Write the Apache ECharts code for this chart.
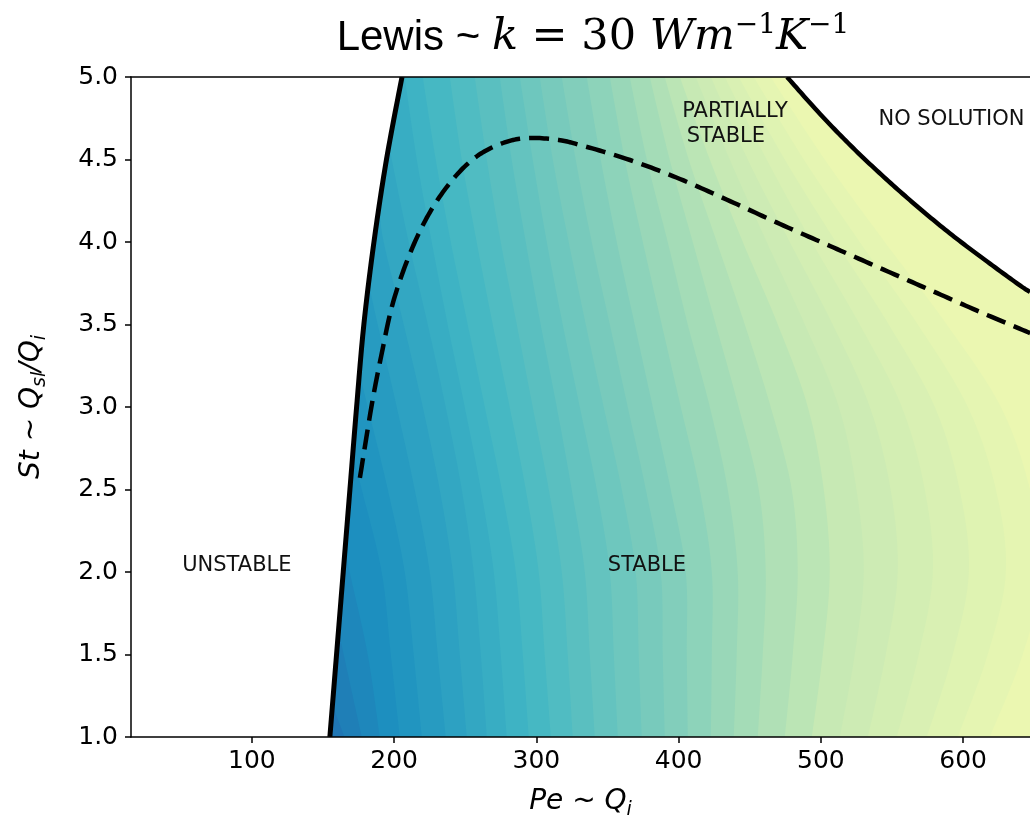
<!DOCTYPE html>
<html><head><meta charset="utf-8">
<script src="https://cdn.jsdelivr.net/npm/echarts@6/dist/echarts.min.js"></script>
<style>html,body{margin:0;padding:0;background:#fff}#c{width:1030px;height:830px}</style>
</head><body><div id="c"></div>
<script>
// ---------------- data ----------------
const X_TICKS = [100, 200, 300, 400, 500, 600];
const Y_TICKS = [1.0, 1.5, 2.0, 2.5, 3.0, 3.5, 4.0, 4.5, 5.0];

// contour levels (position on the YlGnBu colour scale) and the contour lines, bottom to top
const CONTOUR_LEVELS = [0.68,0.66,0.64,0.62,0.60,0.58,0.56,0.54,0.52,0.50,0.48,0.46,0.44,0.42,0.40,0.38,0.36,0.34,0.32,0.30,0.28,0.26,0.24,0.22,0.20,0.18,0.16,0.14];
const CONTOUR_LINES = [
  [[165,1.0],[156.4,1.2]],
  [[177.2,1.0],[164.5,1.5],[161,1.65]],
  [[189.8,1.0],[181.4,1.5],[168.7,2.0],[165.4,2.15]],
  [[203.9,1.0],[197.6,1.5],[191.2,2.0],[177.2,2.5],[170.9,2.7]],
  [[219.4,1.0],[213.7,1.5],[207.4,2.0],[195.5,2.5],[181.4,3.0],[175.8,3.2]],
  [[236.2,1.0],[230.6,1.5],[225.0,2.0],[214.4,2.5],[201.8,3.0],[188.4,3.5],[182.1,3.75]],
  [[251.0,1.0],[246.1,1.5],[241.2,2.0],[232.0,2.5],[220.1,3.0],[206.7,3.5],[192.6,4.0],[189.8,4.2]],
  [[265.1,1.0],[260.9,1.5],[255.9,2.0],[247.5,2.5],[236.2,3.0],[223.6,3.5],[210.2,4.0],[198.3,4.5],[196.5,4.6]],
  [[279.1,1],[274.9,1.5],[270.0,2],[260.9,2.5],[249.6,3],[237.6,3.5],[226.4,4],[215.9,4.5],[207.4,5]],
  [[294.6,1],[290.4,1.5],[285.5,2],[275.6,2.5],[263.7,3],[251.7,3.5],[239.8,4],[229.2,4.5],[220.1,5]],
  [[310.1,1],[305.8,1.5],[301.6,2],[292.5,2.5],[281.2,3],[269.3,3.5],[258.0,4],[247.5,4.5],[239.1,5]],
  [[325.5,1],[322.0,1.5],[317.8,2],[308.7,2.5],[297.4,3],[286.2,3.5],[274.9,4],[265.1,4.5],[256.6,5]],
  [[341.0,1],[337.5,1.5],[334.0,2],[324.8,2.5],[314.3,3],[303.0,3.5],[292.5,4],[282.6,4.5],[274.2,5]],
  [[357.2,1],[354.4,1.5],[351.6,2],[342.4,2.5],[330.5,3],[318.5,3.5],[307.3,4],[297.4,4.5],[288.3,5]],
  [[374.0,1],[371.9,1.5],[369.8,2],[360.0,2.5],[347.3,3],[334.7,3.5],[322.7,4],[311.5,4.5],[302.3,5]],
  [[390.2,1],[388.8,1.5],[387.4,2],[376.9,2.5],[364.2,3],[351.6,3.5],[338.9,4],[327.6,4.5],[317.8,5]],
  [[406.4,1],[405.7,1.5],[405.0,2],[394.4,2.5],[381.8,3],[369.1,3.5],[356.5,4],[345.2,4.5],[335.4,5]],
  [[422.6,1],[423.3,1.5],[423.3,2],[414.8,2.5],[401.5,3],[388.1,3.5],[374.8,4],[362.1,4.5],[351.6,5]],
  [[438.7,1],[440.8,1.5],[441.5,2],[434.5,2.5],[421.9,3],[406.4,3.5],[392.3,4],[377.6,4.5],[365.6,5]],
  [[455.6,1],[459.1,1.5],[461.2,2],[456.3,2.5],[442.2,3],[426.1,3.5],[409.9,4],[393.7,4.5],[379.7,5]],
  [[474.6,1],[480.2,1.5],[483.7,2],[479.5,2.5],[464.7,3],[446.5,3.5],[426.8,4],[407.1,4.5],[390.2,5]],
  [[493.6,1],[501.3,1.5],[506.2,2],[502.0,2.5],[490.8,3],[469.7,3.5],[445.1,4],[421.9,4.5],[400.8,5]],
  [[513.3,1],[523.8,1.5],[530.1,2],[525.0,2.5],[512.6,3],[488.7,3.5],[461.9,4],[435.9,4.5],[412.0,5]],
  [[533.0,1],[545.6,1.5],[554.0,2],[549.0,2.5],[534.4,3],[508.3,3.5],[478.1,4],[448.6,4.5],[422.6,5]],
  [[553.3,1],[568.8,1.5],[578.7,2],[573.0,2.5],[556.9,3],[527.3,3.5],[493.6,4],[461.9,4.5],[432.4,5]],
  [[574.4,1],[592.7,1.5],[604.0,2],[597.5,2.5],[580.1,3],[547.7,3.5],[510.5,4],[474.6,4.5],[442.2,5]],
  [[596.2,1],[617.3,1.5],[630.0,2],[623.0,2.5],[603.3,3],[568.1,3.5],[527.3,4],[488.0,4.5],[452.8,5]],
  [[618.7,1],[641.9,1.5],[655.3,2],[647.0,2.5],[626.5,3],[588.5,3.5],[544.9,4],[502.7,4.5],[464.7,5]]
];

// stability boundary (left, solid), "no solution" boundary (top right, solid), partial-stability curve (dashed)
const LEFT_BOUNDARY = [[154.8,1.0],[159.5,1.5],[164.2,2.0],[168.9,2.5],[173.6,3.0],[178.7,3.5],[185.8,4.0],[194.6,4.5],[205.5,5.0]];
const RIGHT_BOUNDARY = [[476.2,5.0],[499.4,4.776],[522.6,4.570],[545.8,4.382],[569.0,4.206],[592.2,4.042],[615.4,3.891],[638.6,3.745],[647.0,3.697]];
const DASHED_CURVE = [[175.9,2.57],[184.4,3.02],[191.4,3.33],[199.1,3.63],[211.1,3.93],[225.1,4.18],[241.3,4.38],[258.2,4.52],[276.5,4.60],[293.3,4.63],[314.4,4.62],[330.6,4.588],[365.8,4.497],[400.9,4.382],[436.1,4.248],[471.3,4.109],[506.4,3.976],[541.6,3.842],[576.8,3.709],[611.9,3.576],[647.1,3.448]];

const LABEL_TEXTS = ['UNSTABLE', 'STABLE', 'PARTIALLY', 'STABLE', 'NO SOLUTION'];
const LABEL_X = [89.4, 377.7, 439.6, 433.2, 591.8];
const LABEL_Y = [2.04, 2.04, 4.79, 4.64, 4.74];

// ---------------- styling helpers ----------------
const YLGNBU = ['#ffffd9','#edf8b1','#c7e9b4','#7fcdbb','#41b6c4','#1d91c0','#225ea8','#253494','#081d58'];
function hex(h){return [parseInt(h.slice(1,3),16),parseInt(h.slice(3,5),16),parseInt(h.slice(5,7),16)];}
function cmap(t){
  t = Math.max(0, Math.min(1, t));
  const s = t * (YLGNBU.length - 1), i = Math.min(Math.floor(s), YLGNBU.length - 2), f = s - i;
  const a = hex(YLGNBU[i]), b = hex(YLGNBU[i+1]);
  return 'rgb(' + a.map((v,k)=>Math.round(v + (b[k]-v)*f)).join(',') + ')';
}
function smoothPx(pts){
  if (pts.length < 3) return pts.slice();
  const out = [], n = pts.length, seg = 14;
  for (let i = 0; i < n - 1; i++){
    const p0 = pts[Math.max(i-1,0)], p1 = pts[i], p2 = pts[i+1], p3 = pts[Math.min(i+2,n-1)];
    for (let s = 0; s < seg; s++){
      const u = s/seg, u2 = u*u, u3 = u2*u;
      const c = k => 0.5*((2*p1[k]) + (-p0[k]+p2[k])*u + (2*p0[k]-5*p1[k]+4*p2[k]-p3[k])*u2 + (-p0[k]+3*p1[k]-3*p2[k]+p3[k])*u3);
      out.push([c(0), c(1)]);
    }
  }
  out.push(pts[n-1]);
  return out;
}
function bounds(params){
  const cs = params.coordSys;
  return {L: cs.x - 6, R: cs.x + cs.width + 6, T: cs.y - 6, B: cs.y + cs.height + 6};
}

const FONT = 'DejaVu Sans';
const TICK_FONT = 'DejaVu Sans';

const chart = echarts.init(document.getElementById('c'), null, {renderer: 'canvas'});
const axisLineStyle = {color: '#000', width: 1.5};
const nameRich = {
  i: {fontFamily: FONT, fontStyle: 'italic', fontSize: 28, lineHeight: 36, color: '#000'},
  sub: {fontFamily: FONT, fontStyle: 'italic', fontSize: 19, lineHeight: 20, verticalAlign: 'bottom', color: '#000'}
};

chart.setOption({
  animation: false,
  backgroundColor: '#fff',
  grid: {left: 131, right: 0, top: 77, bottom: 93, containLabel: false},
  graphic: [{
    type: 'text', x: 593, y: 38, z: 100,
    style: {
      text: '{s|Lewis}{s| ~ }{m|k}{r| = 30 }{m|Wm}{sup|−1}{m|K}{sup|−1}',
      align: 'center', verticalAlign: 'middle',
      rich: {
        s: {fontFamily: 'Liberation Sans', fontSize: 42, lineHeight: 52, fill: '#000'},
        m: {fontFamily: 'DejaVu Serif', fontStyle: 'italic', fontSize: 43, lineHeight: 52, fill: '#000'},
        r: {fontFamily: 'DejaVu Serif', fontSize: 43, lineHeight: 52, fill: '#000'},
        sup: {fontFamily: 'DejaVu Serif', fontSize: 28, lineHeight: 32, verticalAlign: 'top', fill: '#000'}
      }
    }
  }],
  xAxis: [{
    type: 'value', min: 15, max: 647, z: 10,
    axisLine: {show: true, onZero: false, lineStyle: axisLineStyle},
    axisTick: {show: true, customValues: X_TICKS, length: 6, lineStyle: axisLineStyle},
    axisLabel: {customValues: X_TICKS, fontFamily: TICK_FONT, fontSize: 25, color: '#000', margin: 12},
    splitLine: {show: false},
    name: '{i|Pe}{i| ~ }{i|Q}{sub|i}', nameLocation: 'middle', nameGap: 47,
    nameTextStyle: {fontFamily: FONT, fontSize: 28, color: '#000', rich: nameRich}
  }, {
    type: 'value', position: 'top', min: 15, max: 647, z: 10,
    axisLine: {show: true, onZero: false, lineStyle: axisLineStyle},
    axisTick: {show: false}, axisLabel: {show: false}, splitLine: {show: false}
  }],
  yAxis: {
    type: 'value', min: 1, max: 5, interval: 0.5, z: 10,
    axisLine: {show: true, onZero: false, lineStyle: axisLineStyle},
    axisTick: {show: true, length: 6, lineStyle: axisLineStyle},
    axisLabel: {fontFamily: TICK_FONT, fontSize: 25, color: '#000', margin: 13, formatter: v => v.toFixed(1)},
    splitLine: {show: false},
    name: '{i|St}{i| ~ }{i|Q}{sub|sl}{i|/Q}{sub|i}', nameLocation: 'middle', nameGap: 81, nameRotate: 90,
    nameTextStyle: {fontFamily: FONT, fontSize: 28, color: '#000', rich: nameRich}
  },
  series: [
    { // filled contour bands
      type: 'custom', clip: true, silent: true, z: 1,
      data: [[-1]].concat(CONTOUR_LEVELS.map((t, i) => [i])),
      renderItem(params, api){
        const b = bounds(params);
        const idx = params.dataIndex - 1;
        if (idx < 0) {
          return {type: 'rect', shape: {x: b.L, y: b.T, width: b.R - b.L, height: b.B - b.T},
                  style: {fill: cmap(CONTOUR_LEVELS[0] + 0.01)}};
        }
        const line = CONTOUR_LINES[idx];
        const px = smoothPx(line.map(p => api.coord(p)));
        const first = px[0], last = px[px.length - 1];
        const poly = [[b.R, b.B], [first[0], b.B]].concat(px);
        if (line[line.length - 1][1] >= 5) poly.push([last[0], b.T], [b.R, b.T]);
        else poly.push([b.L, last[1]], [b.L, b.T], [b.R, b.T]);
        return {type: 'polygon', shape: {points: poly}, style: {fill: cmap(CONTOUR_LEVELS[idx] - 0.01)}};
      }
    },
    { // white (masked) regions: unstable and no solution
      type: 'custom', clip: true, silent: true, z: 2,
      data: [[0], [1]],
      renderItem(params, api){
        const b = bounds(params);
        if (params.dataIndex === 0) {
          const px = smoothPx(LEFT_BOUNDARY.map(p => api.coord(p)));
          const poly = [[px[0][0], b.B]].concat(px, [[px[px.length-1][0], b.T], [b.L, b.T], [b.L, b.B]]);
          return {type: 'polygon', shape: {points: poly}, style: {fill: '#fff'}};
        }
        const px = smoothPx(RIGHT_BOUNDARY.map(p => api.coord(p)));
        const poly = [[px[0][0], b.T]].concat(px, [[b.R, px[px.length-1][1]], [b.R, b.T]]);
        return {type: 'polygon', shape: {points: poly}, style: {fill: '#fff'}};
      }
    },
    { // boundary curves
      type: 'custom', clip: true, silent: true, z: 3,
      data: [[0], [1], [2]],
      renderItem(params, api){
        const src = [LEFT_BOUNDARY, RIGHT_BOUNDARY, DASHED_CURVE][params.dataIndex];
        const px = smoothPx(src.map(p => api.coord(p)));
        const style = {stroke: '#000', fill: null, lineWidth: params.dataIndex === 0 ? 5 : 4.5};
        if (params.dataIndex === 2) style.lineDash = [20, 9];
        return {type: 'polyline', shape: {points: px}, style};
      }
    },
    { // region annotations
      type: 'scatter', z: 4, silent: true, symbolSize: 0,
      itemStyle: {opacity: 0},
      data: LABEL_TEXTS.map((t, i) => ({name: t, value: [LABEL_X[i], LABEL_Y[i]]})),
      label: {show: true, position: 'inside', formatter: p => p.name,
              fontFamily: FONT, fontSize: 21, color: '#111', opacity: 1}
    }
  ]
});
</script>
</body></html>
